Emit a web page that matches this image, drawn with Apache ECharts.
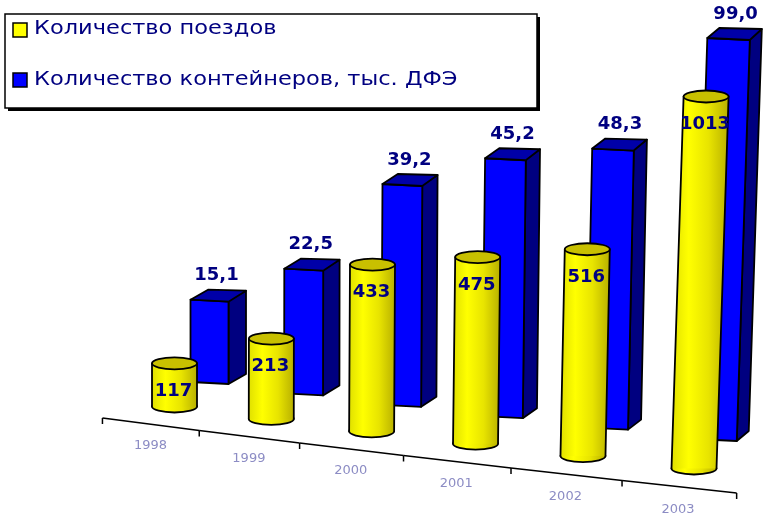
<!DOCTYPE html>
<html><head><meta charset="utf-8">
<style>html,body{margin:0;padding:0;background:#fff}#c{width:766px;height:517px}</style>
<script src="https://cdn.jsdelivr.net/npm/echarts@6/dist/echarts.min.js"></script>
</head><body><div id="c"></div>
<script>
const categories = ['1998','1999','2000','2001','2002','2003'];
const trains = [117,213,433,475,516,1013];
const containers = [15.1,22.5,39.2,45.2,48.3,99.0];
const trainsName = 'Количество поездов';
const containersName = 'Количество контейнеров, тыс. ДФЭ';
// both value axes stop short of the tallest bars, which the source chart cuts off
const trainsAxisMax = 910;
const containersAxisMax = 68.5;

const NAVY = '#000080';
const warp = t => 1.78 * t * (t - 5);      // perspective spread of the floor
const lean = i => 0.0013 * i * i;          // top drift per pixel of height

function cx(api, i){ return api.coord([i, 0])[0] + warp(i); }

function renderContainer(params, api){
  const i = api.value(0), v = api.value(1);
  const g = api.coord([i, 0]), t = api.coord([i, Math.min(v, containersAxisMax)]);
  const h = (g[1] - t[1]) * (0.945 + 0.012 * i);
  const x = cx(api, i) + 35 - 2.7 * i, by = g[1] - 26 + 11.4 * i, ty = by - h;
  const hw = 19 + 0.45 * i, dx = 17.5 - 1.1 * i, dy = -10, l = lean(i) * h;
  const tx = x + l, s = {stroke:'#000', lineWidth:1.8, lineJoin:'round'};
  return {type:'group', children:[
    {type:'polygon', shape:{points:[[x+hw,by],[x+hw+dx,by+dy],[tx+hw+dx,ty+dy],[tx+hw,ty]]}, style:Object.assign({fill:'#000080'},s)},
    {type:'polygon', shape:{points:[[x-hw,by-2],[x+hw,by],[tx+hw,ty+1],[tx-hw,ty-1]]}, style:Object.assign({fill:'#0000ff'},s)},
    {type:'polygon', shape:{points:[[tx-hw,ty-1],[tx+hw,ty+1],[tx+hw+dx,ty+dy],[tx-hw+dx,ty+dy-1]]}, style:Object.assign({fill:'#0000a8'},s)},
    {type:'text', style:{text:v.toFixed(1).replace('.',','), x:tx+7, y:ty-25, fill:NAVY,
      font:'bold 18px "DejaVu Sans"', align:'center', verticalAlign:'middle'}}
  ]};
}

function renderTrain(params, api){
  const i = api.value(0), v = api.value(1);
  const g = api.coord([i, 0]), t = api.coord([i, Math.min(v, trainsAxisMax)]);
  const h = (g[1] - t[1]) * (0.84 + 0.018 * i);
  const x = cx(api, i), by = g[1] - 3.5 + 12.4 * i, ty = by - h;
  const rx = 22.5, ry = 6, tx = x + lean(i) * h;
  const grad = {type:'linear', x:0, y:0, x2:1, y2:0, colorStops:[
    {offset:0,color:'#e0e000'},{offset:0.3,color:'#ffff00'},{offset:0.65,color:'#e8e400'},{offset:1,color:'#b8b000'}]};
  const s = {stroke:'#000', lineWidth:1.8, lineCap:'round'};
  return {type:'group', children:[
    {type:'ellipse', shape:{cx:x, cy:by, rx, ry}, style:Object.assign({fill:grad},s)},
    {type:'polygon', shape:{points:[[x-rx,by],[x+rx,by],[tx+rx,ty],[tx-rx,ty]]}, style:{fill:grad}},
    {type:'line', shape:{x1:x-rx,y1:by,x2:tx-rx,y2:ty}, style:s},
    {type:'line', shape:{x1:x+rx,y1:by,x2:tx+rx,y2:ty}, style:s},
    {type:'ellipse', shape:{cx:tx, cy:ty, rx, ry}, style:Object.assign({fill:'#c8c000'},s)},
    {type:'text', style:{text:String(v), x:tx-1, y:ty+28, fill:NAVY,
      font:'bold 18px "DejaVu Sans"', align:'center', verticalAlign:'middle'}}
  ]};
}

function renderFloor(params, api){
  const i = api.value(0);
  const g = api.coord([i, 0]);
  const band = api.size([1, 0])[0];
  const node = k => {
    const u = k - 0.5;
    return [g[0] + (u - i) * band + warp(u) - 25 + 1.8 * k, g[1] + 8 + 12.5 * k];
  };
  const a = node(i), b = node(i + 1);
  const s = {stroke:'#000', lineWidth:1.5};
  const children = [
    {type:'line', shape:{x1:a[0],y1:a[1],x2:b[0],y2:b[1]}, style:s},
    {type:'line', shape:{x1:b[0],y1:b[1],x2:b[0],y2:b[1]+6}, style:s},
    {type:'text', style:{text:categories[i], x:g[0]+warp(i)-24+1.6*i, y:g[1]+35.5+12.8*i, fill:'#8c8cc4',
      font:'13px "DejaVu Sans"', align:'center', verticalAlign:'middle'}}
  ];
  if (i === 0) children.push({type:'line', shape:{x1:a[0],y1:a[1],x2:a[0],y2:a[1]+6}, style:s});
  return {type:'group', children};
}

const legendText = (name, y) => ({type:'text', left:34, top:y, scaleX:1.125, originX:0,
  style:{text:name, fill:NAVY, font:'20px "DejaVu Sans"'}});
const legendMark = (color, y) => ({type:'rect', shape:{x:13, y, width:14, height:14},
  style:{fill:color, stroke:'#000', lineWidth:1.5}});

const chart = echarts.init(document.getElementById('c'), null, {renderer:'canvas'});
chart.setOption({
  animation:false,
  backgroundColor:'#fff',
  grid:{left:122.55, width:623.4, top:10, height:400},
  xAxis:{type:'category', data:categories, show:false},
  yAxis:[
    {type:'value', min:0, max:trainsAxisMax, show:false},
    {type:'value', min:0, max:containersAxisMax, show:false}
  ],
  graphic:[
    {type:'rect', z:10, shape:{x:8, y:17, width:532, height:94}, style:{fill:'#000'}},
    {type:'rect', z:11, shape:{x:5, y:14, width:532, height:94}, style:{fill:'#fff', stroke:'#000', lineWidth:1.5}},
    Object.assign(legendMark('#ffff00', 23), {z:12}),
    Object.assign(legendMark('#0000ff', 73), {z:12}),
    Object.assign(legendText(trainsName, 19), {z:12}),
    Object.assign(legendText(containersName, 70), {z:12})
  ],
  series:[
    {type:'custom', name:'floor', silent:true, clip:false, z:1, renderItem:renderFloor,
     encode:{x:0,y:1}, data:categories.map((c,i)=>[i,0])},
    {type:'custom', name:containersName, yAxisIndex:1, silent:true, clip:false, z:2, renderItem:renderContainer,
     encode:{x:0,y:1}, data:containers.map((v,i)=>[i,v])},
    {type:'custom', name:trainsName, yAxisIndex:0, silent:true, clip:false, z:3, renderItem:renderTrain,
     encode:{x:0,y:1}, data:trains.map((v,i)=>[i,v])}
  ]
});
</script></body></html>
